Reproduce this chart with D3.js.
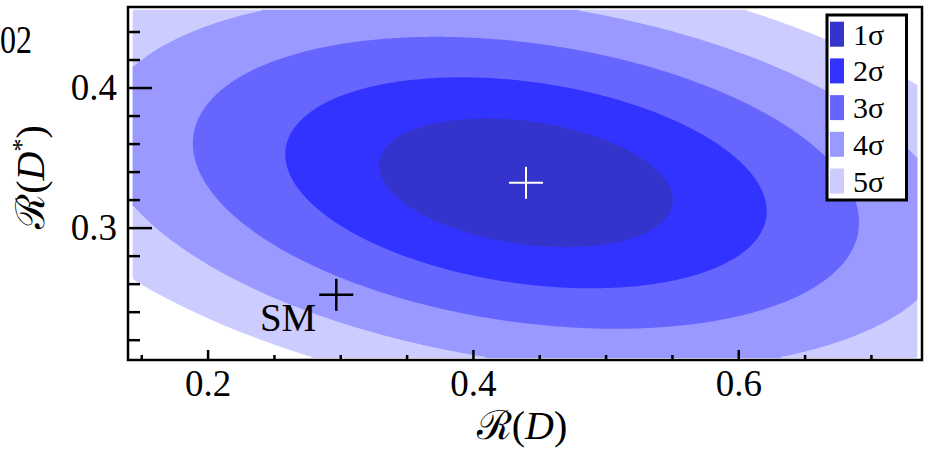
<!DOCTYPE html>
<html>
<head>
<meta charset="utf-8">
<script src="https://cdn.jsdelivr.net/npm/d3@7"></script>
<style>
  body { margin: 0; background: #fff; }
  text { font-family: "Liberation Serif", "DejaVu Serif", serif; fill: #000; }
</style>
</head>
<body>
<div id="chart"></div>
<script>
var w = 930;
var h = 449;

// best fit (white cross) and SM point (black cross)
var bestFit = [0.440, 0.332];
var smPoint = [0.297, 0.252];
// uncertainties on R(D), R(D*) and their correlation
var sigmaD = 0.073;
var sigmaDstar = 0.0303;
var rho = -0.27;
// delta chi2 for 1..5 sigma (2 dof)
var levels = [2.30, 6.18, 11.83, 19.33, 28.74];
var levelNames = ["1σ", "2σ", "3σ", "4σ", "5σ"];
var levelColors = ["#3434cc", "#3333ff", "#6666ff", "#9999ff", "#ccccff"];
// scanned range
var scanX = [0.1435, 0.735];
var scanY = [0.207, 0.4555];
// ticks
var xMajor = [0.2, 0.4, 0.6];
var xMinor = [0.15, 0.25, 0.3, 0.35, 0.45, 0.5, 0.55, 0.65, 0.7];
var yMajor = [0.3, 0.4];
var yMinor = [0.22, 0.24, 0.26, 0.28, 0.32, 0.34, 0.36, 0.38, 0.42, 0.44];

var svg = d3.select("#chart").append("svg")
  .attr("width", w)
  .attr("height", h);

var x = d3.scaleLinear().domain([0.14, 0.7385]).range([128, 922]);
var y = d3.scaleLinear().domain([0.2055, 0.4575]).range([360, 7]);

// chi2 grid
var nx = 300, ny = 150;
var grid = new Array(nx * ny);
for (var j = 0; j < ny; j++) {
  for (var i = 0; i < nx; i++) {
    var xv = scanX[0] + (i + 0.5) / nx * (scanX[1] - scanX[0]);
    var yv = scanY[1] - (j + 0.5) / ny * (scanY[1] - scanY[0]);
    var u = (xv - bestFit[0]) / sigmaD;
    var v = (yv - bestFit[1]) / sigmaDstar;
    grid[j * nx + i] = -(u * u - 2 * rho * u * v + v * v) / (1 - rho * rho);
  }
}

var contours = d3.contours()
  .size([nx, ny])
  .thresholds(levels.map(function(l) { return -l; }))(grid);

var toScreen = d3.geoTransform({
  point: function(gx, gy) {
    var xv = scanX[0] + gx / nx * (scanX[1] - scanX[0]);
    var yv = scanY[1] - gy / ny * (scanY[1] - scanY[0]);
    this.stream.point(x(xv), y(yv));
  }
});
var path = d3.geoPath(toScreen);

// draw 5 sigma first, 1 sigma on top
var order = d3.range(levels.length).reverse();
svg.append("g").selectAll("path")
  .data(order)
  .enter()
  .append("path")
  .attr("d", function(k) {
    var c = contours.find(function(c) { return c.value === -levels[k]; });
    return path(c);
  })
  .attr("fill", function(k) { return levelColors[k]; });

// crosses
function cross(p, color, width) {
  var g = svg.append("g").attr("stroke", color).attr("stroke-width", width);
  g.append("line")
    .attr("x1", x(p[0]) - 17).attr("x2", x(p[0]) + 17)
    .attr("y1", y(p[1])).attr("y2", y(p[1]));
  g.append("line")
    .attr("x1", x(p[0])).attr("x2", x(p[0]))
    .attr("y1", y(p[1]) - 16).attr("y2", y(p[1]) + 16);
}
cross(bestFit, "#fff", 2);
cross(smPoint, "#000", 2.5);

svg.append("text")
  .attr("x", x(smPoint[0]) - 20)
  .attr("y", y(smPoint[1]) + 36)
  .attr("text-anchor", "end")
  .style("font-size", "39px")
  .text("SM");

// axes
var fmt = d3.format(".1f");
svg.append("g").attr("transform", "translate(0,360)")
  .call(d3.axisBottom(x).tickValues(xMajor).tickSize(-10).tickPadding(10).tickFormat(fmt));
svg.append("g").attr("transform", "translate(0,360)")
  .call(d3.axisBottom(x).tickValues(xMinor).tickSize(-5).tickFormat(""));
svg.append("g").attr("transform", "translate(128,0)")
  .call(d3.axisLeft(y).tickValues(yMajor).tickSize(-24).tickPadding(11).tickFormat(fmt));
svg.append("g").attr("transform", "translate(128,0)")
  .call(d3.axisLeft(y).tickValues(yMinor).tickSize(-12).tickFormat(""));

svg.selectAll(".domain").remove();
svg.selectAll(".tick line").attr("stroke", "#000").attr("stroke-width", 2.5);
svg.selectAll(".tick text")
  .style("font-family", "'Liberation Serif', serif")
  .style("font-size", "37px")
  .attr("fill", "#000");

// frame
svg.append("rect")
  .attr("x", 128).attr("y", 7)
  .attr("width", 922 - 128).attr("height", 360 - 7)
  .attr("fill", "none")
  .attr("stroke", "#000")
  .attr("stroke-width", 2.5);

// axis titles
var xt = svg.append("text")
  .attr("x", 522).attr("y", 439)
  .attr("text-anchor", "middle")
  .style("font-size", "40px");
xt.append("tspan").style("font-family", "'DejaVu Serif', serif").text("ℛ");
xt.append("tspan").text("(");
xt.append("tspan").style("font-style", "italic").text("D");
xt.append("tspan").text(")");

var yt = svg.append("text")
  .attr("transform", "translate(44,177) rotate(-90)")
  .attr("text-anchor", "middle")
  .style("font-size", "40px");
yt.append("tspan").style("font-family", "'DejaVu Serif', serif").text("ℛ");
yt.append("tspan").text("(");
yt.append("tspan").style("font-style", "italic").text("D");
yt.append("tspan").attr("dy", -14).style("font-size", "26px").text("*");
yt.append("tspan").attr("dy", 14).text(")");

// label remnant at top left
svg.append("text")
  .attr("x", 0).attr("y", 53)
  .attr("textLength", 32)
  .attr("lengthAdjust", "spacingAndGlyphs")
  .style("font-size", "41px")
  .text("02");

// legend
var legend = svg.append("g");
legend.append("rect")
  .attr("x", 827).attr("y", 15)
  .attr("width", 79.5).attr("height", 185)
  .attr("fill", "#fff")
  .attr("stroke", "#000")
  .attr("stroke-width", 3);
var rows = legend.selectAll("g.row")
  .data(levelNames)
  .enter()
  .append("g")
  .attr("class", "row")
  .attr("transform", function(d, i) { return "translate(830," + (21.7 + i * 36.7) + ")"; });
rows.append("rect")
  .attr("width", 14).attr("height", 25)
  .attr("fill", function(d, i) { return levelColors[i]; });
rows.append("text")
  .attr("x", 23).attr("y", 23)
  .style("font-size", "30px")
  .text(function(d) { return d; });
</script>
</body>
</html>
